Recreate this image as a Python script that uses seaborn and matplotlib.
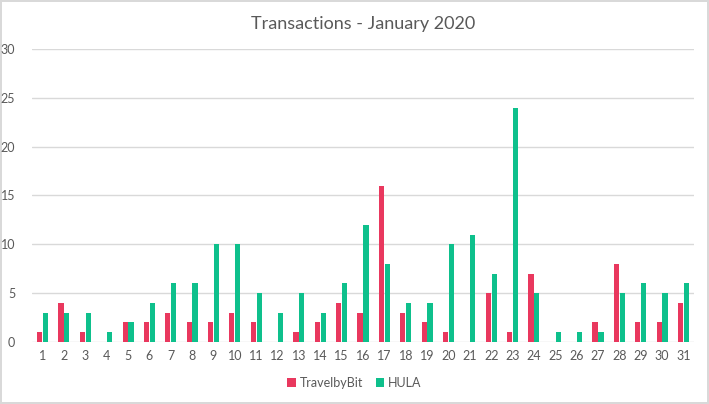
import pandas as pd
import seaborn as sns
import matplotlib.pyplot as plt

# Datos del gráfico
days = list(range(1, 32))
travelbybit = [1, 4, 1, 0, 2, 2, 3, 2, 2, 3, 2, 0, 1, 2, 4, 3, 16, 3, 2, 1, 0, 5, 1, 7, 0, 0, 2, 8, 2, 2, 4]
hula = [3, 3, 3, 1, 2, 4, 6, 6, 10, 10, 5, 3, 5, 3, 6, 12, 8, 4, 4, 10, 11, 7, 24, 5, 1, 1, 1, 5, 6, 5, 6]
series_names = ['TravelbyBit', 'HULA']
colors = ['#E9385E', '#0EC08C']

df = pd.DataFrame({'day': days * 2,
                   'value': travelbybit + hula,
                   'series': [series_names[0]] * 31 + [series_names[1]] * 31})

sns.set_style('white')
plt.rcParams['font.family'] = ['Lato', 'DejaVu Sans']
text_color = '#595959'

fig = plt.figure(figsize=(7.09, 4.04), dpi=100, linewidth=1.5, edgecolor='#D9D9D9')
ax = fig.add_axes([0.045, 0.1535, 0.934, 0.7255])

sns.barplot(data=df, x='day', y='value', hue='series', palette=colors,
            width=0.55, gap=0.12, saturation=1, linewidth=0, ax=ax, legend=True)

ax.set_ylim(0, 30)
ax.set_yticks(range(0, 31, 5))
ax.set_xlim(-0.5, 30.5)
ax.grid(axis='y', color='#D9D9D9', linewidth=1)
ax.set_axisbelow(True)
for s in ax.spines.values():
    s.set_visible(False)
ax.set_xlabel('')
ax.set_ylabel('')
ax.tick_params(axis='both', length=0, labelsize=9, colors=text_color, pad=6)
ax.tick_params(axis='y', pad=12)

ax.set_title('Transactions - January 2020', fontsize=13, color=text_color, pad=14)

handles, labels = ax.get_legend_handles_labels()
ax.legend(handles, labels, loc='center', bbox_to_anchor=(0.5, 0.052),
          bbox_transform=fig.transFigure, ncol=2, frameon=False, fontsize=9,
          labelcolor=text_color, handlelength=0.7, handleheight=0.7,
          handletextpad=0.3, columnspacing=1.0)

fig.savefig('out.png', dpi=100, edgecolor=fig.get_edgecolor())
